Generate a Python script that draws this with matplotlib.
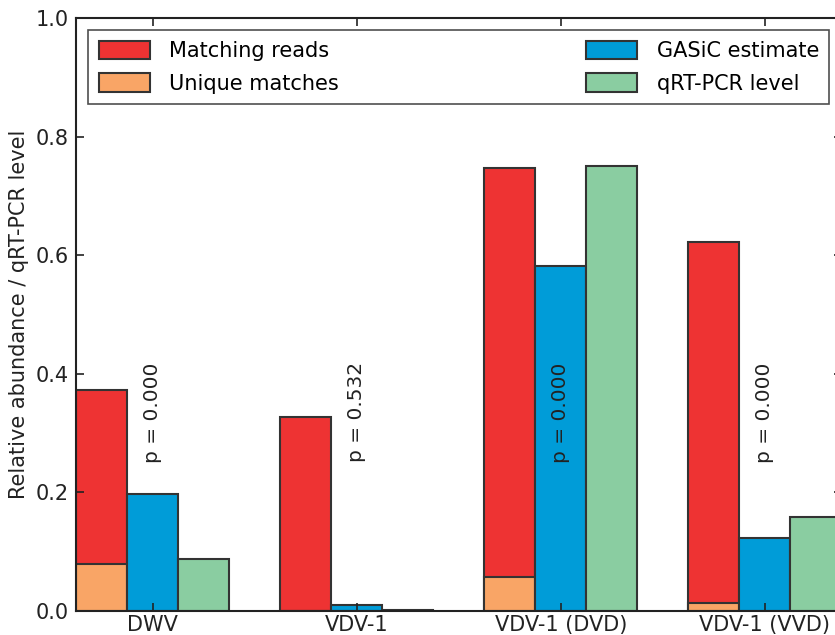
import matplotlib
matplotlib.use('Agg')
import matplotlib.pyplot as plt
import numpy as np

# values
samples = ["DWV", "VDV-1", "VDV-1 (DVD)", "VDV-1 (VVD)"]
matching_reads = [0.373, 0.327, 0.747, 0.622]
unique_matches = [0.080, 0.0, 0.058, 0.013]
gasic_estimate = [0.198, 0.010, 0.582, 0.123]
qpcr_level = [0.088, 0.001, 0.751, 0.159]
p_values = ["p = 0.000", "p = 0.532", "p = 0.000", "p = 0.000"]

RED = '#ee3333'
ORANGE = '#f9a566'
BLUE = '#009cd8'
GREEN = '#8acda1'
EDGE = '#333333'

fig = plt.figure(figsize=(8.35, 6.35), dpi=100)
# axes right edge runs slightly past the figure, as in the reference crop
ax = fig.add_axes([76 / 835, 1 - 611 / 635, (841.5 - 76) / 835, (611 - 18) / 635])

x = np.arange(len(samples))
w = 0.25
kw = dict(width=w, edgecolor=EDGE, linewidth=1.5)
ax.bar(x - w, matching_reads, color=RED, label="Matching reads", **kw)
ax.bar(x - w, unique_matches, color=ORANGE, label="Unique matches", **kw)
ax.bar(x, gasic_estimate, color=BLUE, label="GASiC estimate", **kw)
ax.bar(x + w, qpcr_level, color=GREEN, label="qRT-PCR level", **kw)

for xi, p in zip(x, p_values):
    ax.text(xi, 0.335, p, rotation=90, ha='center', va='center', fontsize=14.5, color='#222222')

ax.set_xlim(-1.5 * w, len(samples) - 1 + 1.5 * w)
ax.set_ylim(0, 1.0)
ax.set_xticks(x)
ax.set_xticklabels(samples, fontsize=15)
ax.set_yticks(np.arange(0, 1.01, 0.2))
ax.set_yticklabels([f"{v:.1f}" for v in np.arange(0, 1.01, 0.2)], fontsize=15)
ax.tick_params(direction='in', top=True, right=True, length=6, width=1.2, colors='#222222')
ax.tick_params(axis='x', pad=3)
ax.tick_params(axis='y', pad=5)
for s in ax.spines.values():
    s.set_linewidth(1.5)
    s.set_color('#222222')
ax.set_ylabel("Relative abundance / qRT-PCR level", fontsize=15, color='#222222')
ax.yaxis.set_label_coords(-47 / 765.5, 0.5)

handles, labels = ax.get_legend_handles_labels()
leg = ax.legend(handles, labels, ncol=2, mode='expand', loc='upper left',
                bbox_to_anchor=(0, 0, 1, 1), borderaxespad=0.58, fontsize=15,
                handlelength=2.45, handleheight=1.0, handletextpad=0.95,
                fancybox=False, frameon=True, borderpad=0.5, labelspacing=0.6)
leg.get_frame().set_edgecolor('#222222')
leg.get_frame().set_linewidth(1.2)

fig.savefig("out.png", dpi=100)
